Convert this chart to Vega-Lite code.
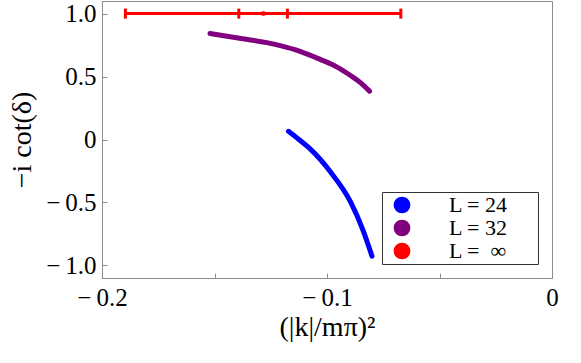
{
  "$schema": "https://vega.github.io/schema/vega-lite/v6.json",
  "autosize": {"type": "none"},
  "padding": {"left": 102, "top": 1, "right": 29, "bottom": 85},
  "width": 450,
  "height": 277,
  "background": "white",
  "config": {
    "font": "Times New Roman, Liberation Serif, Times, serif",
    "view": {"stroke": "#8c8c8c", "strokeWidth": 1}
  },
  "datasets": {
    "curves": [
      {"series": "L = 32", "x": -0.152, "y": 0.842},
      {"series": "L = 32", "x": -0.1417, "y": 0.812},
      {"series": "L = 32", "x": -0.1268, "y": 0.769},
      {"series": "L = 32", "x": -0.1208, "y": 0.745},
      {"series": "L = 32", "x": -0.112, "y": 0.7},
      {"series": "L = 32", "x": -0.103, "y": 0.636},
      {"series": "L = 32", "x": -0.0955, "y": 0.575},
      {"series": "L = 32", "x": -0.0897, "y": 0.51},
      {"series": "L = 32", "x": -0.085, "y": 0.45},
      {"series": "L = 32", "x": -0.0811, "y": 0.384},
      {"series": "L = 24", "x": -0.1171, "y": 0.065},
      {"series": "L = 24", "x": -0.1125, "y": 0.0},
      {"series": "L = 24", "x": -0.1075, "y": -0.075},
      {"series": "L = 24", "x": -0.0986, "y": -0.254},
      {"series": "L = 24", "x": -0.0897, "y": -0.49},
      {"series": "L = 24", "x": -0.0838, "y": -0.73},
      {"series": "L = 24", "x": -0.08, "y": -0.927}
    ],
    "bar": [
      {"series": "L = ∞", "lo": -0.1896, "hi": -0.0672, "y": 1.0}
    ],
    "caps": [
      {"series": "L = ∞", "x": -0.1896, "y": 1.0},
      {"series": "L = ∞", "x": -0.1392, "y": 1.0},
      {"series": "L = ∞", "x": -0.1176, "y": 1.0},
      {"series": "L = ∞", "x": -0.0672, "y": 1.0}
    ],
    "center": [
      {"series": "L = ∞", "x": -0.1283, "y": 1.0}
    ]
  },
  "layer": [
    {
      "mark": {"type": "rule", "color": "#b4b4b4", "strokeWidth": 1},
      "encoding": {"y": {"datum": 0, "type": "quantitative"}}
    },
    {
      "data": {"name": "curves"},
      "mark": {"type": "line", "strokeWidth": 5, "strokeCap": "round", "interpolate": "monotone"},
      "encoding": {
        "x": {
          "field": "x", "type": "quantitative",
          "scale": {"domain": [-0.2, 0], "nice": false, "zero": false},
          "axis": {
            "values": [-0.2, -0.15, -0.1, -0.05, 0],
            "labelExpr": "datum.value == -0.2 ? '−\u20090.2' : datum.value == -0.1 ? '−\u20090.1' : datum.value == 0 ? '0' : ''",
            "labelFlush": false,
            "grid": false,
            "domainColor": "#8c8c8c",
            "tickColor": "#8c8c8c",
            "tickSize": -5,
            "labelFont": "Liberation Serif",
            "labelFontSize": 25,
            "labelColor": "black",
            "labelPadding": 12,
            "title": "(|k|/mπ)²",
            "titleFont": "Liberation Serif",
            "titleFontSize": 28,
            "titleFontWeight": "normal",
            "titleColor": "black",
            "titlePadding": 3
          }
        },
        "y": {
          "field": "y", "type": "quantitative",
          "scale": {"domain": [-1.1, 1.1], "nice": false, "zero": false},
          "axis": {
            "values": [-1, -0.5, 0, 0.5, 1],
            "labelExpr": "datum.value == 0 ? '0' : datum.value < 0 ? '−\u2009' + format(-datum.value, '.1f') : format(datum.value, '.1f')",
            "labelFlush": false,
            "grid": false,
            "domainColor": "#8c8c8c",
            "tickColor": "#8c8c8c",
            "tickSize": -5,
            "labelFont": "Liberation Serif",
            "labelFontSize": 25,
            "labelColor": "black",
            "labelPadding": 11,
            "title": "−i cot(δ)",
            "titleFont": "Liberation Serif",
            "titleFontSize": 28,
            "titleFontWeight": "normal",
            "titleColor": "black",
            "titlePadding": 9
          }
        },
        "color": {
          "field": "series", "type": "nominal",
          "scale": {"domain": ["L = 24", "L = 32", "L = ∞"], "range": ["#0000ff", "#800080", "#ff0000"]},
          "legend": {
            "title": null,
            "orient": "none",
            "legendX": 280,
            "legendY": 191,
            "fillColor": "white",
            "strokeColor": "#333333",
            "padding": 2,
            "rowPadding": 1,
            "symbolType": "circle",
            "symbolSize": 280,
            "symbolOffset": 7,
            "symbolStrokeWidth": 0,
            "labelFont": "Liberation Serif",
            "labelFontSize": 22,
            "labelColor": "black",
            "labelOffset": 36,
            "labelExpr": "(datum.label == 'L = ∞' ? 'L =\u00a0\u00a0∞' : datum.label) + '\u00a0\u00a0\u00a0\u00a0\u00a0\u200b'",
            "encode": {"symbols": {"update": {"fill": {"scale": "color", "field": "value"}, "fillOpacity": {"value": 1}, "strokeWidth": {"value": 0}}}}
          }
        },
        "detail": {"field": "series"}
      }
    },
    {
      "data": {"name": "bar"},
      "mark": {"type": "rule", "strokeWidth": 3},
      "encoding": {
        "x": {"field": "lo", "type": "quantitative"},
        "x2": {"field": "hi"},
        "y": {"field": "y", "type": "quantitative"},
        "color": {"field": "series", "type": "nominal"}
      }
    },
    {
      "data": {"name": "caps"},
      "mark": {"type": "tick", "orient": "vertical", "size": 10, "thickness": 3, "opacity": 1},
      "encoding": {
        "x": {"field": "x", "type": "quantitative"},
        "y": {"field": "y", "type": "quantitative"},
        "color": {"field": "series", "type": "nominal"}
      }
    },
    {
      "data": {"name": "center"},
      "mark": {"type": "point", "filled": true, "size": 25, "opacity": 0.8},
      "encoding": {
        "x": {"field": "x", "type": "quantitative"},
        "y": {"field": "y", "type": "quantitative"},
        "color": {"field": "series", "type": "nominal"}
      }
    }
  ]
}
